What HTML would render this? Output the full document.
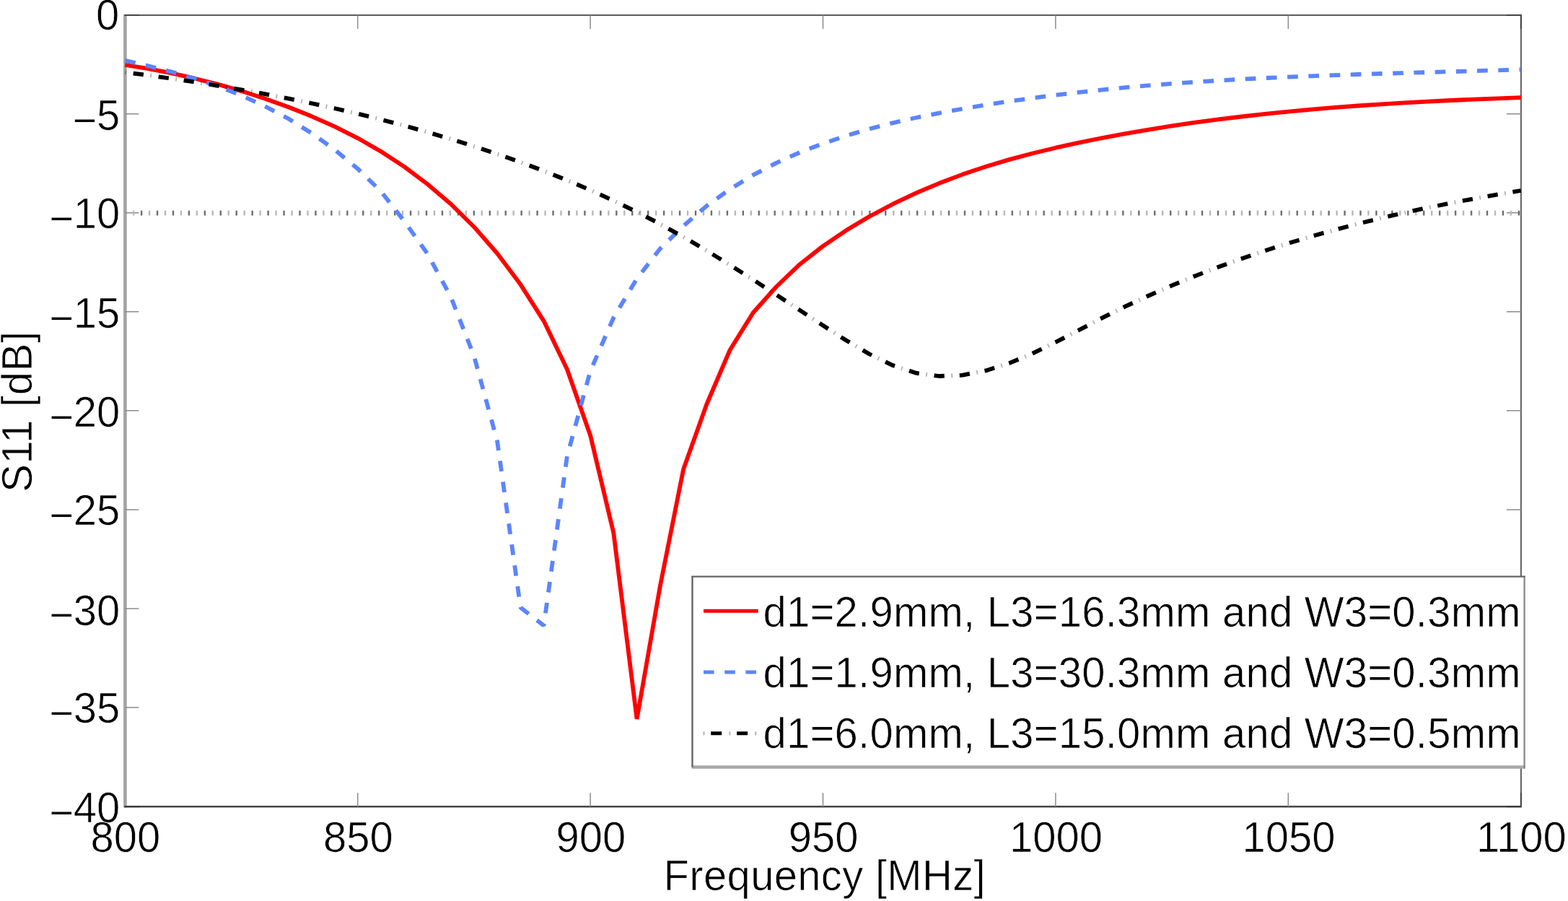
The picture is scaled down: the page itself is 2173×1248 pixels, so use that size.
<!DOCTYPE html>
<html lang="en"><head><meta charset="utf-8"><title>S11 vs Frequency</title>
<style>
html,body{margin:0;padding:0;background:#fff;}
body{width:2173px;height:1248px;overflow:hidden;}
svg{display:block;}
text{font-family:'Liberation Sans', Arial, Helvetica, sans-serif;font-size:58px;fill:#000;stroke:#fff;stroke-width:0.7px;paint-order:fill stroke;}
</style></head><body>
<svg width="2173" height="1248" viewBox="0 0 2173 1248">
<rect x="0" y="0" width="2173" height="1248" fill="#fff"/>

<line x1="173.4" y1="20.0" x2="173.4" y2="1118.4" stroke="#a3a3a3" stroke-width="4.6"/>
<line x1="172.20000000000002" y1="20.9" x2="2109.0" y2="20.9" stroke="#5c5c5c" stroke-width="2"/>
<line x1="172.20000000000002" y1="1117.2" x2="2109.0" y2="1117.2" stroke="#444" stroke-width="2.4"/>
<line x1="2107.9" y1="20.9" x2="2107.9" y2="1117.2" stroke="#6a6a6a" stroke-width="2.2"/>
<path d="M173.4,20.9 h20 M2107.9,20.9 h-20 M173.4,1117.2 h20 M2107.9,1117.2 h-20 M2107.9,20.9 v19 M2107.9,1117.2 v-19" stroke="#333" stroke-opacity="0.6" stroke-width="2" fill="none"/>
<path d="M495.7,20.9 v19 M495.7,1117.2 v-19 M818.1,20.9 v19 M818.1,1117.2 v-19 M1140.5,20.9 v19 M1140.5,1117.2 v-19 M1462.9,20.9 v19 M1462.9,1117.2 v-19 M1785.3,20.9 v19 M1785.3,1117.2 v-19 M173.4,980.0 h19 M2107.9,980.0 h-20 M173.4,842.9 h19 M2107.9,842.9 h-20 M173.4,705.9 h19 M2107.9,705.9 h-20 M173.4,568.8 h19 M2107.9,568.8 h-20 M173.4,431.8 h19 M2107.9,431.8 h-20 M173.4,294.7 h19 M2107.9,294.7 h-20 M173.4,157.7 h19 M2107.9,157.7 h-20" stroke="#8c8c8c" stroke-width="1.5" fill="none"/>
<line x1="194.9" y1="295.1" x2="2107.9" y2="295.1" stroke="#6e6e6e" stroke-width="6.8" stroke-dasharray="2.4 19.54"/>
<line x1="183.93" y1="295.1" x2="2107.9" y2="295.1" stroke="#b8b8b8" stroke-width="6.8" stroke-dasharray="2.4 19.54"/>
<g fill="none" stroke-linejoin="bevel">
<path d="M173.3,89.8 L205.5,95.2 L237.8,101.4 L270.0,108.7 L302.3,116.9 L334.5,126.1 L366.7,136.5 L399.0,148.0 L431.2,160.8 L463.5,175.1 L495.7,191.3 L527.9,209.8 L560.2,230.9 L592.4,255.0 L624.7,282.5 L656.9,314.2 L689.1,351.0 L721.4,394.1 L753.6,444.6 L785.9,511.5 L818.1,603.0 L850.3,738.0 L882.6,996.0 L914.8,812.0 L947.1,650.0 L979.3,560.0 L1011.5,485.0 L1043.8,433.0 L1076.0,397.0 L1108.3,366.2 L1140.5,340.9 L1172.7,319.1 L1205.0,299.8 L1237.2,282.7 L1269.5,267.4 L1301.7,253.8 L1333.9,241.6 L1366.2,230.8 L1398.4,221.1 L1430.7,212.5 L1462.9,204.7 L1495.1,197.6 L1527.4,191.1 L1559.6,185.1 L1591.9,179.6 L1624.1,174.4 L1656.3,169.7 L1688.6,165.4 L1720.8,161.5 L1753.1,157.9 L1785.3,154.6 L1817.5,151.6 L1849.8,148.9 L1882.0,146.5 L1914.3,144.3 L1946.5,142.4 L1978.7,140.6 L2011.0,139.0 L2043.2,137.6 L2075.5,136.3 L2107.7,135.1" stroke="#ff0000" stroke-width="5.8"/>
<path d="M173.3,83.9 L205.5,91.3 L237.8,99.5 L270.0,108.8 L302.3,119.6 L334.5,132.2 L366.7,146.9 L399.0,164.0 L431.2,184.0 L463.5,207.1 L495.7,233.7 L527.9,265.1 L560.2,306.3 L592.4,351.5 L624.7,411.0 L656.9,493.0 L689.1,611.0 L721.4,841.5 L753.6,866.5 L785.9,632.0 L818.1,514.0 L850.3,440.0 L882.6,386.0 L914.8,344.5 L947.1,313.0 L979.3,285.2 L1011.5,262.1 L1043.8,242.4 L1076.0,225.6 L1108.3,211.2 L1140.5,198.8 L1172.7,188.0 L1205.0,178.5 L1237.2,170.3 L1269.5,163.0 L1301.7,156.6 L1333.9,150.7 L1366.2,145.3 L1398.4,140.3 L1430.7,135.8 L1462.9,131.6 L1495.1,127.8 L1527.4,124.4 L1559.6,121.2 L1591.9,118.4 L1624.1,115.9 L1656.3,113.6 L1688.6,111.6 L1720.8,109.7 L1753.1,108.1 L1785.3,106.6 L1817.5,105.3 L1849.8,104.1 L1882.0,103.0 L1914.3,102.0 L1946.5,101.0 L1978.7,100.1 L2011.0,99.2 L2043.2,98.3 L2075.5,97.3 L2107.7,96.3" stroke="#5b84ff" stroke-width="5.8" stroke-dasharray="14.7 14.53"/>
<path d="M173.3,100.0 L205.5,104.3 L237.8,108.8 L270.0,113.6 L302.3,118.8 L334.5,124.3 L366.7,130.1 L399.0,136.3 L431.2,143.0 L463.5,150.0 L495.7,157.5 L527.9,165.5 L560.2,174.0 L592.4,183.0 L624.7,192.6 L656.9,202.7 L689.1,213.4 L721.4,224.7 L753.6,236.8 L785.9,249.6 L818.1,263.3 L850.3,278.0 L882.6,293.6 L914.8,310.3 L947.1,328.2 L979.3,347.1 L1011.5,367.0 L1043.8,387.5 L1076.0,408.4 L1108.3,429.6 L1140.5,450.8 L1172.7,471.5 L1205.0,490.5 L1237.2,506.1 L1269.5,516.7 L1301.7,521.0 L1333.9,519.6 L1366.2,513.4 L1398.4,503.1 L1430.7,489.7 L1462.9,474.0 L1495.1,457.3 L1527.4,440.4 L1559.6,424.4 L1591.9,409.5 L1624.1,395.4 L1656.3,382.2 L1688.6,369.8 L1720.8,358.2 L1753.1,347.2 L1785.3,337.0 L1817.5,327.4 L1849.8,318.4 L1882.0,309.9 L1914.3,302.0 L1946.5,294.6 L1978.7,287.7 L2011.0,281.2 L2043.2,275.1 L2075.5,269.4 L2107.7,264.0" stroke="#000" stroke-width="5.8" stroke-dasharray="14.3 21" stroke-dashoffset="-11.5"/>
<path d="M173.3,100.0 L205.5,104.3 L237.8,108.8 L270.0,113.6 L302.3,118.8 L334.5,124.3 L366.7,130.1 L399.0,136.3 L431.2,143.0 L463.5,150.0 L495.7,157.5 L527.9,165.5 L560.2,174.0 L592.4,183.0 L624.7,192.6 L656.9,202.7 L689.1,213.4 L721.4,224.7 L753.6,236.8 L785.9,249.6 L818.1,263.3 L850.3,278.0 L882.6,293.6 L914.8,310.3 L947.1,328.2 L979.3,347.1 L1011.5,367.0 L1043.8,387.5 L1076.0,408.4 L1108.3,429.6 L1140.5,450.8 L1172.7,471.5 L1205.0,490.5 L1237.2,506.1 L1269.5,516.7 L1301.7,521.0 L1333.9,519.6 L1366.2,513.4 L1398.4,503.1 L1430.7,489.7 L1462.9,474.0 L1495.1,457.3 L1527.4,440.4 L1559.6,424.4 L1591.9,409.5 L1624.1,395.4 L1656.3,382.2 L1688.6,369.8 L1720.8,358.2 L1753.1,347.2 L1785.3,337.0 L1817.5,327.4 L1849.8,318.4 L1882.0,309.9 L1914.3,302.0 L1946.5,294.6 L1978.7,287.7 L2011.0,281.2 L2043.2,275.1 L2075.5,269.4 L2107.7,264.0" stroke="#000" stroke-opacity="0.3" stroke-width="5.8" stroke-dasharray="1.8 33.5"/>
</g>
<text transform="translate(174.0,1179.8) scale(1,1.03)" text-anchor="middle">800</text>
<text transform="translate(496.4,1179.8) scale(1,1.03)" text-anchor="middle">850</text>
<text transform="translate(818.8,1179.8) scale(1,1.03)" text-anchor="middle">900</text>
<text transform="translate(1141.2,1179.8) scale(1,1.03)" text-anchor="middle">950</text>
<text transform="translate(1463.6,1179.8) scale(1,1.03)" text-anchor="middle">1000</text>
<text transform="translate(1786.0,1179.8) scale(1,1.03)" text-anchor="middle">1050</text>
<text transform="translate(2108.4,1179.8) scale(1,1.03)" text-anchor="middle">1100</text>
<text transform="translate(165.2,41.3) scale(1,1.03)" text-anchor="end">0</text>
<text transform="translate(165.2,179.7) scale(1,1.03)" text-anchor="end"><tspan dx="1" dy="6.6">−</tspan><tspan dx="-0.5" dy="-6.6">5</tspan></text>
<text transform="translate(165.2,315.8) scale(1,1.03)" text-anchor="end"><tspan dx="1" dy="6.6">−</tspan><tspan dx="-0.5" dy="-6.6">10</tspan></text>
<text transform="translate(165.2,454.4) scale(1,1.03)" text-anchor="end"><tspan dx="1" dy="6.6">−</tspan><tspan dx="-0.5" dy="-6.6">15</tspan></text>
<text transform="translate(165.2,590.8) scale(1,1.03)" text-anchor="end"><tspan dx="1" dy="6.6">−</tspan><tspan dx="-0.5" dy="-6.6">20</tspan></text>
<text transform="translate(165.2,726.7) scale(1,1.03)" text-anchor="end"><tspan dx="1" dy="6.6">−</tspan><tspan dx="-0.5" dy="-6.6">25</tspan></text>
<text transform="translate(165.2,865.5) scale(1,1.03)" text-anchor="end"><tspan dx="1" dy="6.6">−</tspan><tspan dx="-0.5" dy="-6.6">30</tspan></text>
<text transform="translate(165.2,1001.2) scale(1,1.03)" text-anchor="end"><tspan dx="1" dy="6.6">−</tspan><tspan dx="-0.5" dy="-6.6">35</tspan></text>
<text transform="translate(165.2,1139.2) scale(1,1.03)" text-anchor="end"><tspan dx="1" dy="6.6">−</tspan><tspan dx="-0.5" dy="-6.6">40</tspan></text>
<text transform="translate(1142.6,1233) scale(1,1.03)" text-anchor="middle" textLength="446" lengthAdjust="spacing">Frequency [MHz]</text>
<text transform="translate(43.6,570.3) rotate(-90) scale(1,1.03)" text-anchor="middle" textLength="223" lengthAdjust="spacing">S11 [dB]</text>
<rect x="959.5" y="798.5" width="1153.5" height="264.0" fill="#fff"/>
<line x1="958.5" y1="1062.5" x2="2113.8" y2="1062.5" stroke="#a8a8a8" stroke-width="4.7"/>
<line x1="2112.6" y1="798.5" x2="2112.6" y2="1064.5" stroke="#888" stroke-width="2.3"/>
<line x1="958.3" y1="798.7" x2="2113.8" y2="798.7" stroke="#666" stroke-width="2.3"/>
<line x1="959.5" y1="798.5" x2="959.5" y2="1062.5" stroke="#666" stroke-width="2.4"/>
<line x1="975" y1="846.2" x2="1050.7" y2="846.2" stroke="#ff0000" stroke-width="5"/>
<line x1="975" y1="931" x2="1050.7" y2="931" stroke="#5b84ff" stroke-width="5" stroke-dasharray="14.6 14.6"/>
<line x1="985.2" y1="1015.7" x2="1040" y2="1015.7" stroke="#000" stroke-width="5" stroke-dasharray="15 20.9"/>
<line x1="974.5" y1="1015.7" x2="1050.7" y2="1015.7" stroke="#000" stroke-opacity="0.3" stroke-width="5" stroke-dasharray="2 33.9"/>
<text transform="translate(1057.5,868.4) scale(1,1.03)" textLength="1050" lengthAdjust="spacing">d1=2.9mm, L3=16.3mm and W3=0.3mm</text>
<text transform="translate(1057.5,951.8) scale(1,1.03)" textLength="1050" lengthAdjust="spacing">d1=1.9mm, L3=30.3mm and W3=0.3mm</text>
<text transform="translate(1057.5,1036.3) scale(1,1.03)" textLength="1050" lengthAdjust="spacing">d1=6.0mm, L3=15.0mm and W3=0.5mm</text>
</svg>
</body></html>
